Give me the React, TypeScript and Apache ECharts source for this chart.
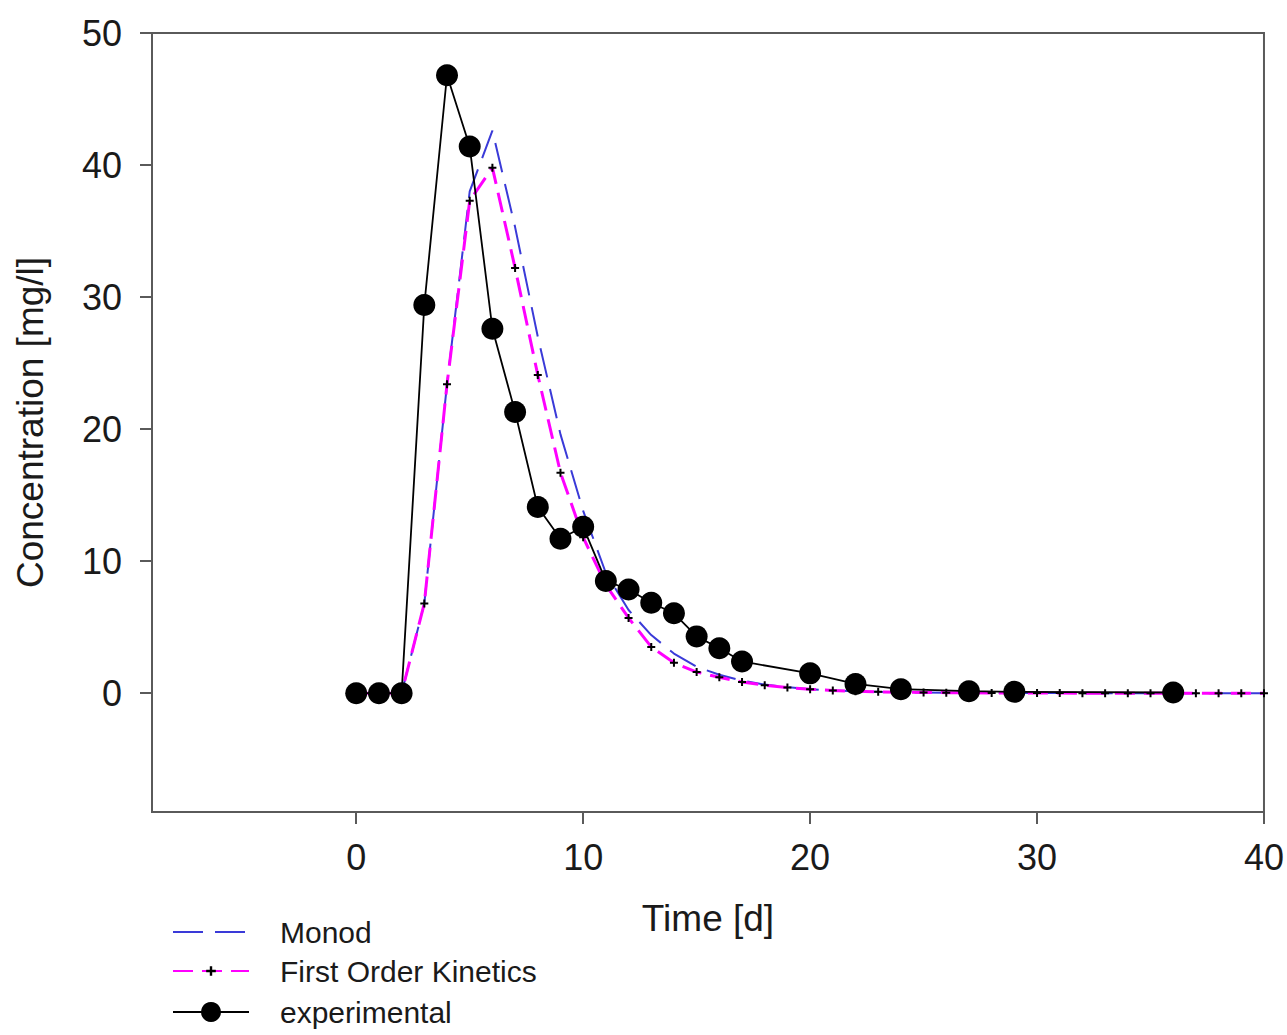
import React, { useEffect, useRef } from "react";
import * as echarts from "echarts";

// ---- data ----
const modelTime = [
  0, 1, 2, 3, 4, 5, 6, 7, 8, 9, 10, 11, 12, 13, 14, 15, 16, 17, 18, 19, 20,
  21, 22, 23, 24, 25, 26, 27, 28, 29, 30, 31, 32, 33, 34, 35, 36, 37, 38, 39, 40,
];
const monodValues = [
  0, 0, 0, 6.8, 23.4, 38.0, 42.6, 35.3, 27.0, 19.6, 13.8, 9.1, 6.3, 4.4, 3.0,
  2.0, 1.4, 0.95, 0.65, 0.45, 0.3, 0.2, 0.14, 0.1, 0.07, 0.05, 0.03, 0.02,
  0.02, 0.01, 0.01, 0.01, 0, 0, 0, 0, 0, 0, 0, 0, 0,
];
const firstOrderValues = [
  0, 0, 0, 6.8, 23.4, 37.3, 39.8, 32.2, 24.1, 16.7, 11.8, 8.2, 5.7, 3.5, 2.3,
  1.6, 1.2, 0.85, 0.6, 0.42, 0.3, 0.2, 0.14, 0.1, 0.07, 0.05, 0.04, 0.03,
  0.02, 0.02, 0.01, 0.01, 0, 0, 0, 0, 0, 0, 0, 0, 0,
];
const expTime = [
  0, 1, 2, 3, 4, 5, 6, 7, 8, 9, 10, 11, 12, 13, 14, 15, 16, 17, 20, 22, 24, 27,
  29, 36,
];
const expValues = [
  0, 0, 0, 29.4, 46.8, 41.4, 27.6, 21.3, 14.1, 11.7, 12.6, 8.5, 7.85, 6.85,
  6.05, 4.3, 3.4, 2.4, 1.5, 0.7, 0.3, 0.15, 0.1, 0.05,
];
const xTicks = [0, 10, 20, 30, 40];
const yTicks = [0, 10, 20, 30, 40, 50];
const seriesNames = ["Monod", "First Order Kinetics", "experimental"];

const zip = (xs: number[], ys: number[]) => xs.map((x, i) => [x, ys[i]]);

const PLUS = "path://M3,0H5V3H8V5H5V8H3V5H0V3H3Z";
const FONT = "'Liberation Sans', Arial, Helvetica, sans-serif";
const AXIS_COLOR = "#5a5a5a";

export default function App() {
  const ref = useRef<HTMLDivElement>(null);

  useEffect(() => {
    if (!ref.current) return;
    const chart = echarts.init(ref.current, undefined, { renderer: "svg" });
    const axisCommon = {
      type: "value" as const,
      splitLine: { show: false },
      axisLine: { show: true, onZero: false, lineStyle: { color: AXIS_COLOR, width: 2 } },
      nameLocation: "middle" as const,
      nameTextStyle: { fontSize: 37, color: "#1a1a1a", fontFamily: FONT },
    };
    chart.setOption({
      animation: false,
      backgroundColor: "#ffffff",
      textStyle: { fontFamily: FONT },
      grid: {
        left: 152,
        right: 20,
        top: 33,
        bottom: 223,
        show: true,
        borderColor: AXIS_COLOR,
        borderWidth: 2,
        containLabel: false,
      },
      xAxis: {
        ...axisCommon,
        min: -9,
        max: 40,
        name: "Time [d]",
        nameGap: 88,
        axisTick: {
          show: true,
          inside: false,
          length: 12,
          customValues: xTicks,
          lineStyle: { color: AXIS_COLOR, width: 2 },
        },
        axisLabel: {
          customValues: xTicks,
          fontSize: 36,
          color: "#1a1a1a",
          margin: 27,
          fontFamily: FONT,
        },
      },
      yAxis: {
        ...axisCommon,
        min: -9,
        max: 50,
        name: "Concentration [mg/l]",
        nameGap: 103,
        axisTick: {
          show: true,
          inside: false,
          length: 12,
          customValues: yTicks,
          lineStyle: { color: AXIS_COLOR, width: 2 },
        },
        axisLabel: {
          customValues: yTicks,
          fontSize: 36,
          color: "#1a1a1a",
          margin: 30,
          fontFamily: FONT,
        },
      },
      legend: [
        {
          data: [seriesNames[0], seriesNames[1]],
          orient: "vertical",
          left: 167,
          top: 912,
          itemWidth: 76,
          itemHeight: 12,
          itemGap: 9,
          selectedMode: false,
          textStyle: { fontSize: 30, color: "#1a1a1a", fontFamily: FONT, padding: [0, 0, 0, 26] },
        },
        {
          data: [seriesNames[2]],
          orient: "vertical",
          left: 167,
          top: 992,
          itemWidth: 76,
          itemHeight: 25,
          itemGap: 10,
          selectedMode: false,
          textStyle: { fontSize: 30, color: "#1a1a1a", fontFamily: FONT, padding: [0, 0, 0, 26] },
        },
      ],
      series: [
        {
          name: seriesNames[0],
          type: "line",
          data: zip(modelTime, monodValues),
          symbol: "none",
          itemStyle: { color: "rgba(0,0,0,0)" },
          lineStyle: { color: "#3a3ad8", width: 2, type: [30, 12] },
          z: 2,
        },
        {
          name: seriesNames[1],
          type: "line",
          data: zip(modelTime, firstOrderValues),
          symbol: PLUS,
          symbolSize: 8,
          showAllSymbol: true,
          itemStyle: { color: "#000000" },
          lineStyle: { color: "#ff00ff", width: 3, type: [20, 9] },
          z: 3,
        },
        {
          name: seriesNames[2],
          type: "line",
          data: zip(expTime, expValues),
          symbol: "circle",
          symbolSize: 22,
          itemStyle: { color: "#000000" },
          lineStyle: { color: "#000000", width: 1.8 },
          z: 4,
        },
      ],
    });
    return () => chart.dispose();
  }, []);

  return (
    <div
      ref={ref}
      style={{ position: "absolute", left: 0, top: 0, width: 1287, height: 1035 }}
    />
  );
}
